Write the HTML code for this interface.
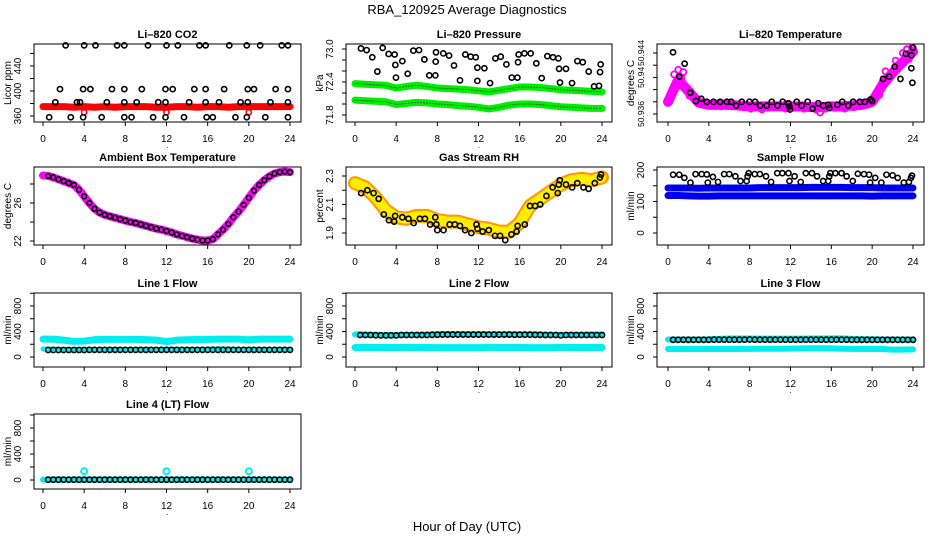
<!DOCTYPE html>
<html><head><meta charset="utf-8"><style>
html,body{margin:0;padding:0;background:#fff;}
svg{display:block;font-family:"Liberation Sans",sans-serif;}
</style></head><body>
<svg id="chart" width="936" height="540" viewBox="0 0 936 540" xmlns="http://www.w3.org/2000/svg">
<rect width="936" height="540" fill="#fff"/>
<text x="467" y="14" font-size="13" text-anchor="middle">RBA_120925  Average Diagnostics</text>
<text x="467" y="531" font-size="13" text-anchor="middle">Hour of Day (UTC)</text>
</svg>
<script>
// ---- shared
const xTicks=[0,4,8,12,16,20,24];
const bandHours=[0,1,2,3,4,5,6,7,8,9,10,11,12,13,14,15,16,17,18,19,20,21,22,23,24];
const halfHours=[0.5,1,1.5,2,2.5,3,3.5,4,4.5,5,5.5,6,6.5,7,7.5,8,8.5,9,9.5,10,10.5,11,11.5,12,12.5,13,13.5,14,14.5,15,15.5,16,16.5,17,17.5,18,18.5,19,19.5,20,20.5,21,21.5,22,22.5,23,23.5,24];
// ---- CO2
const co2Band=[375,375,375,374,375,374,375,374,375,375,375,374,374,375,375,374,375,375,374,375,375,375,375,375,375];
const co2RedH=[4,12,20];
const co2RedV=[366,366,366];
const co2H=[2.2,4.0,5.1,7.2,7.9,10.2,12.0,13.1,15.2,15.8,18.1,19.8,21.1,23.2,23.8,
 1.65,3.9,4.6,6.7,7.9,9.6,11.9,12.6,14.7,15.8,17.6,19.9,20.5,22.6,23.8,
 1.2,3.3,3.6,6.2,7.9,9.1,11.2,11.9,14.2,15.8,17.1,19.2,19.9,22.1,23.8,
 0.6,2.7,3.9,5.7,7.9,8.6,10.7,11.9,13.7,15.9,16.5,18.7,19.8,21.6,23.8];
const co2V=[473,473,473,473,473,473,473,473,473,473,473,473,473,473,473,
 403,403,403,403,403,403,403,403,403,403,403,403,403,403,403,
 382,382,382,382,382,382,382,382,382,382,382,382,382,382,382,
 358,358,358,358,358,358,358,358,358,358,358,358,358,358,358];
// ---- Pressure
const presUpper=[72.37,72.36,72.35,72.34,72.29,72.32,72.34,72.32,72.29,72.28,72.27,72.26,72.24,72.22,72.25,72.28,72.31,72.31,72.3,72.28,72.26,72.25,72.24,72.23,72.22];
const presLower=[72.07,72.06,72.05,72.04,71.99,72.01,72.03,72.02,72.0,71.99,71.97,71.96,71.94,71.91,71.94,71.98,72.0,72.0,71.99,71.97,71.95,71.94,71.93,71.92,71.92];
const presH=[0.58,1.13,1.68,2.17,2.69,3.27,3.85,3.92,3.98,4.6,5.12,5.67,6.22,6.74,7.22,7.81,7.87,7.84,8.58,9.14,9.62,10.2,10.72,11.24,11.73,11.89,11.89,12.57,13.12,13.64,14.16,14.71,15.23,15.78,15.84,15.9,16.46,17.07,17.62,18.14,18.69,19.24,19.76,19.83,19.92,20.5,21.09,21.61,22.13,22.71,23.23,23.71,23.81,23.87];
const presV=[73.01,72.98,72.85,72.59,73.02,72.91,72.9,72.71,72.48,72.78,72.55,72.97,72.98,72.81,72.52,72.52,72.94,72.77,72.92,72.88,72.7,72.43,72.9,72.86,72.85,72.66,72.42,72.65,72.38,72.83,72.86,72.72,72.48,72.48,72.76,72.9,72.92,72.92,72.74,72.47,72.87,72.85,72.83,72.64,72.39,72.64,72.38,72.78,72.76,72.59,72.32,72.33,72.58,72.72];
// ---- Li-820 temperature
const tempBand=[50.9376,50.9405,50.9390,50.9375,50.9372,50.9372,50.9372,50.9371,50.9370,50.9370,50.9370,50.9370,50.9370,50.9370,50.9369,50.9369,50.9370,50.9370,50.9371,50.9372,50.9376,50.9398,50.9414,50.9428,50.9442];
const tempMagH=[0.1,0.6,0.8,1.0,1.3,1.5,1.7,2.1,2.6,3.0,5.2,6.9,8.1,9.2,10.4,11.5,12.3,13.3,14.5,14.9,15.4,16.3,17.3,18.2,19.5,20.7,21.0,21.3,21.8,22.3,22.6,23.0,23.4,23.6,23.9];
const tempMagV=[50.9377,50.9412,50.9400,50.9418,50.9408,50.9415,50.9395,50.9384,50.9380,50.9378,50.9370,50.9370,50.9367,50.9366,50.9369,50.9367,50.9368,50.9367,50.9366,50.9362,50.9367,50.9368,50.9367,50.9369,50.9372,50.9385,50.9402,50.9416,50.9412,50.9430,50.9425,50.9440,50.9445,50.9432,50.9447];
const tempH=[0.49,1.11,1.63,2.18,2.73,3.26,3.81,4.46,5.11,5.77,6.19,6.68,7.23,7.98,8.53,9.02,9.67,10.16,10.72,11.24,11.79,11.89,11.95,12.61,13.09,13.68,14.17,14.72,15.21,15.7,15.8,16.58,17.07,17.65,18.14,18.79,19.28,19.84,20.0,21.07,21.66,22.21,22.77,23.29,23.84,23.84,24.0,23.94];
const tempV=[50.9441,50.9409,50.9426,50.9388,50.9377,50.9380,50.9376,50.9376,50.9376,50.9376,50.9376,50.9371,50.9376,50.9376,50.9376,50.9371,50.9371,50.9376,50.9371,50.9376,50.9374,50.9370,50.9366,50.9376,50.9371,50.9376,50.9367,50.9374,50.9371,50.9372,50.9368,50.9372,50.9376,50.9371,50.9376,50.9376,50.9376,50.9379,50.9377,50.9406,50.9409,50.9422,50.9406,50.9439,50.9420,50.9437,50.9447,50.9401];
// ---- Ambient box temperature (half-hourly, starting at 0)
const ambH=[0,0.5,1,1.5,2,2.5,3,3.5,4,4.5,5,5.5,6,6.5,7,7.5,8,8.5,9,9.5,10,10.5,11,11.5,12,12.5,13,13.5,14,14.5,15,15.5,16,16.5,17,17.5,18,18.5,19,19.5,20,20.5,21,21.5,22,22.5,23,23.5,24];
const ambV=[28.9,28.85,28.7,28.5,28.3,28.1,27.9,27.4,26.7,26.0,25.4,25.0,24.75,24.6,24.45,24.3,24.15,24.0,23.9,23.75,23.6,23.45,23.3,23.2,23.05,22.9,22.7,22.55,22.4,22.25,22.15,22.05,22.05,22.2,22.7,23.2,23.8,24.5,25.1,25.8,26.55,27.3,27.9,28.4,28.8,29.1,29.25,29.3,29.25];
// ---- RH
const rhBand=[2.25,2.22,2.15,2.06,2.01,2.0,2.02,2.02,1.99,1.98,1.98,1.96,1.94,1.93,1.91,1.91,1.97,2.09,2.14,2.19,2.24,2.27,2.28,2.27,2.29];
const rhH=[0.6,1.2,1.8,2.3,2.8,3.3,3.8,3.9,4.6,5.2,5.7,6.3,6.8,7.3,7.8,7.9,8.0,8.6,9.2,9.7,10.2,10.7,11.3,11.8,11.9,12.4,13.0,13.6,14.1,14.6,15.2,15.7,15.8,16.5,17.0,17.5,18.0,18.6,19.2,19.7,19.8,19.9,20.5,21.1,21.6,22.2,22.7,23.3,23.8,23.9];
const rhV=[2.18,2.2,2.18,2.14,2.03,1.99,1.98,2.02,2.01,2.0,1.97,2.0,2.0,1.96,2.01,1.96,1.92,1.92,1.96,1.96,1.95,1.92,1.9,1.96,1.93,1.91,1.92,1.88,1.88,1.85,1.89,1.91,1.95,1.96,2.09,2.09,2.1,2.16,2.22,2.18,2.24,2.27,2.24,2.22,2.25,2.22,2.21,2.25,2.29,2.31];
// ---- Sample flow
const sfUpper=[143,143,143,142,143,143,143,143,143,144,144,144,144,144,145,145,145,145,144,144,144,143,143,143,143];
const sfLower=[119,119,118,117,117,118,118,118,118,118,118,118,118,118,118,118,118,118,118,118,117,118,118,118,118];
const sfH=[0.5,1.1,1.6,2.2,2.7,3.3,3.8,3.9,4.4,4.9,5.5,6.0,6.6,7.1,7.7,7.8,7.9,8.5,9.0,9.6,10.1,10.7,11.2,11.8,11.9,12.4,13.0,13.5,14.1,14.6,15.2,15.7,15.8,15.9,16.4,17.0,17.5,18.1,18.6,19.2,19.7,19.8,20.3,20.9,21.4,22.0,22.5,23.1,23.6,23.8,23.9];
const sfV=[185,185,175,160,187,187,186,160,178,162,187,187,180,165,165,180,190,187,187,180,162,190,190,190,165,180,162,190,190,180,165,165,180,190,190,190,180,165,188,187,185,160,175,160,185,183,175,160,162,175,182];
// ---- Line flows
const l1Cyan=[280,280,265,245,250,272,276,276,276,276,272,265,242,265,270,275,276,280,280,280,270,280,280,280,280];
const l1CyanLow=[125,125,120,118,120,120,120,120,120,120,120,120,120,120,120,120,125,130,125,120,120,120,120,120,120];
const l1Black=[110,110,110,110,110,110,110,110,112,112,112,112,112,112,112,112,112,112,112,112,112,112,112,112,112,112,112,112,112,112,112,112,112,112,112,112,112,112,112,112,112,112,112,112,112,112,112,112];
const l2Cyan=[355,352,345,340,340,348,350,352,358,358,358,356,356,355,355,355,356,356,352,350,348,350,350,352,352];
const l2CyanLow=[150,150,150,150,150,150,150,150,148,148,148,148,148,150,150,150,150,148,148,148,150,150,150,150,150];
const l2Black=[345,345,345,342,340,340,340,340,345,345,345,345,345,345,348,350,352,352,352,352,352,352,352,352,352,352,352,352,352,352,350,350,350,350,348,348,345,345,345,340,345,345,345,345,345,345,345,345];
const l3Cyan=[275,275,275,275,278,285,290,290,290,288,288,288,288,288,290,290,292,292,285,280,278,275,275,275,275];
const l3CyanLow=[125,125,125,125,125,125,125,125,128,130,130,130,132,135,138,138,135,130,128,125,125,125,115,115,120];
const l3Black=[270,270,270,270,270,270,270,270,272,272,272,272,272,272,272,275,272,272,272,272,272,272,272,272,272,272,272,272,272,272,272,272,272,272,272,270,270,270,270,270,270,270,270,270,270,270,270,270];
const l4Cyan=[5,5,5,5,5,5,5,5,5,5,5,5,5,5,5,5,5,5,5,5,5,5,5,5,5];
const l4Spike=[4,12,20];
const l4SpikeV=[135,135,135];
const l4Black=[5,5,5,5,5,5,5,5,5,5,5,5,5,5,5,5,5,5,5,5,5,5,5,5,5,5,5,5,5,5,5,5,5,5,5,5,5,5,5,5,5,5,5,5,5,5,5,5];

const NS='http://www.w3.org/2000/svg';
const svg=document.getElementById('chart');
function mk(tag,attrs,parent){const e=document.createElementNS(NS,tag);for(const k in attrs)e.setAttribute(k,attrs[k]);(parent||svg).appendChild(e);return e;}

function panel(o){
  const g=mk('g',{});
  
  
  const sx=h=>o.x0+h*(o.x24-o.x0)/24;
  const sy=v=>o.p0+(v-o.v0)*(o.p1-o.p0)/(o.v1-o.v0);
  const box=mk('rect',{x:o.l,y:o.t,width:o.r-o.l,height:o.b-o.t,fill:'none',stroke:'#000','stroke-width':1},g);
  
  
  const t=mk('text',{x:(o.l+o.r)/2,y:o.t-6,'font-size':11,'font-weight':'bold','text-anchor':'middle'},g);
  t.textContent=o.title;
  
  
  const yl=mk('text',{transform:`translate(${o.l-23},${(o.t+o.b)/2}) rotate(-90)`,'font-size':10,'text-anchor':'middle'},g);
  yl.textContent=o.ylab;
  
  
  xTicks.forEach(h=>{
    const x=sx(h);
    mk('line',{x1:x,x2:x,y1:o.b,y2:o.b+4,stroke:'#000'},g);
    const tx=mk('text',{x:x,y:o.b+20,'font-size':10,'text-anchor':'middle'},g);
    tx.textContent=String(h);
    
    
  });
  const d=mk('text',{x:(o.l+o.r)/2,y:o.b+26,'font-size':8,'text-anchor':'middle'},g);
  d.textContent='.';
  const fs=o.tickFont||10;
  o.yticks.forEach((v,i)=>{
    const y=sy(v);
    mk('line',{x1:o.l-4,x2:o.l,y1:y,y2:y,stroke:'#000'},g);
    if(o.ylabels[i]){
      const ty=mk('text',{transform:`translate(${o.l-13},${y}) rotate(-90)`,'font-size':fs,'text-anchor':'middle'},g);
      ty.textContent=o.ylabels[i];
      
      
    }
  });
  return {g,sx,sy};
}
function band(p,hs,vs,color,w,name){
  const pl=mk('polyline',{points:hs.map((h,i)=>p.sx(h)+','+p.sy(vs[i])).join(' '),fill:'none',stroke:color,'stroke-width':w,'stroke-linejoin':'round','stroke-linecap':'round'},p.g);
  
  
  return pl;
}
function pts(p,hs,vs,color,name,r,sw){
  hs.forEach((h,i)=>{
    const c=mk('circle',{cx:p.sx(h),cy:p.sy(vs[i]),r:r||2.6,fill:'none',stroke:color,'stroke-width':sw||1.6},p.g);
    
    
  });
}
const C1={l:34,r:301,x0:43,x24:290}, C2={l:346,r:612,x0:355,x24:602}, C3={l:657,r:924,x0:668,x24:913};
const flowTicks=[0,200,400,600,800,1000], flowLabels=['0','','400','','800',''];

// CO2
let p=panel(Object.assign({},C1,{t:44,b:122,v0:360,p0:116,v1:440,p1:66,yticks:[360,380,400,420,440,460],ylabels:['360','','400','','440',''],title:'Li\u2013820 CO2',ylab:'Licor ppm',name:'panel-li820-co2'}));
band(p,bandHours,co2Band,'#ff0000',7,'co2-band');
pts(p,co2RedH,co2RedV,'#ff0000','co2-red-point');
pts(p,co2H,co2V,'#000','co2-point');
// Pressure
p=panel(Object.assign({},C2,{t:44,b:122,v0:71.8,p0:115,v1:72.4,p1:82,yticks:[71.8,72.0,72.2,72.4,72.6,72.8,73.0],ylabels:['71.8','','','72.4','','','73.0'],title:'Li\u2013820 Pressure',ylab:'kPa',name:'panel-li820-pressure'}));
band(p,bandHours,presUpper,'#00ee00',7,'pressure-band-upper');
band(p,bandHours,presLower,'#00ee00',7,'pressure-band-lower');
band(p,bandHours,presUpper,'#006600',1,'pressure-band-upper-core').setAttribute('stroke-dasharray','1 2');
band(p,bandHours,presLower,'#006600',1,'pressure-band-lower-core').setAttribute('stroke-dasharray','1 2');
pts(p,presH,presV,'#000','pressure-point');
// Temperature
p=panel(Object.assign({},C3,{t:44,b:122,v0:50.936,p0:114,v1:50.944,p1:53,tickFont:8.5,yticks:[50.936,50.9376,50.9392,50.9408,50.9424,50.944],ylabels:['50.936','','','50.94','','50.944'],title:'Li\u2013820 Temperature',ylab:'degrees C',name:'panel-li820-temperature'}));
band(p,bandHours,tempBand,'#ff00ff',10,'temperature-band');
pts(p,tempMagH,tempMagV,'#ff00ff','temperature-magenta-point',3,1.8);
pts(p,tempH,tempV,'#000','temperature-point');
// Ambient
p=panel(Object.assign({},C1,{t:167,b:245,v0:22,p0:241,v1:26,p1:203,yticks:[22,24,26,28],ylabels:['22','','26',''],title:'Ambient Box Temperature',ylab:'degrees C',name:'panel-ambient-temperature'}));
band(p,ambH,ambV,'#ff00ff',8,'ambient-band');
pts(p,ambH.slice(1),ambV.slice(1),'#000','ambient-point',2.4,1.6);
// RH
p=panel(Object.assign({},C2,{t:167,b:245,v0:1.9,p0:233,v1:2.3,p1:176,yticks:[1.9,2.0,2.1,2.2,2.3],ylabels:['1.9','','2.1','','2.3'],title:'Gas Stream RH',ylab:'percent',name:'panel-gas-stream-rh'}));
band(p,bandHours,rhBand,'#ff9900',14,'rh-band');
band(p,bandHours,rhBand,'#ffee00',10,'rh-band-dots').setAttribute('stroke-dasharray','1 2');
pts(p,rhH,rhV,'#000','rh-point');
// Sample flow
p=panel(Object.assign({},C3,{t:167,b:245,v0:0,p0:233,v1:200,p1:170,yticks:[0,50,100,150,200],ylabels:['0','','100','','200'],title:'Sample Flow',ylab:'ml/min',name:'panel-sample-flow'}));
band(p,bandHours,sfUpper,'#0000ee',7,'sample-flow-band-upper');
band(p,bandHours,sfLower,'#0000ee',7,'sample-flow-band-lower');
pts(p,sfH,sfV,'#000','sample-flow-point');
// Line 1
p=panel(Object.assign({},C1,{t:293,b:367,v0:0,p0:357,v1:800,p1:306,yticks:flowTicks,ylabels:flowLabels,title:'Line 1 Flow',ylab:'ml/min',name:'panel-line1-flow'}));
band(p,bandHours,l1Cyan,'#00eeee',7,'line1-cyan-band');
band(p,bandHours,l1CyanLow,'#00eeee',5,'line1-cyan-low-band');
pts(p,halfHours,l1Black,'#000','line1-point');
// Line 2
p=panel(Object.assign({},C2,{t:293,b:367,v0:0,p0:357,v1:800,p1:306,yticks:flowTicks,ylabels:flowLabels,title:'Line 2 Flow',ylab:'ml/min',name:'panel-line2-flow'}));
band(p,bandHours,l2Cyan,'#00eeee',6,'line2-cyan-band');
band(p,bandHours,l2CyanLow,'#00eeee',7,'line2-cyan-low-band');
pts(p,halfHours,l2Black,'#000','line2-point');
// Line 3
p=panel(Object.assign({},C3,{t:293,b:367,v0:0,p0:357,v1:800,p1:306,yticks:flowTicks,ylabels:flowLabels,title:'Line 3 Flow',ylab:'ml/min',name:'panel-line3-flow'}));
band(p,bandHours,l3Cyan,'#00eeee',6,'line3-cyan-band');
band(p,bandHours,l3CyanLow,'#00eeee',6,'line3-cyan-low-band');
pts(p,halfHours,l3Black,'#000','line3-point');
// Line 4
p=panel(Object.assign({},C1,{t:414,b:489,v0:0,p0:480,v1:800,p1:428,yticks:flowTicks,ylabels:flowLabels,title:'Line 4 (LT) Flow',ylab:'ml/min',name:'panel-line4-flow'}));
band(p,bandHours,l4Cyan,'#00eeee',6,'line4-cyan-band');
pts(p,l4Spike,l4SpikeV,'#00eeee','line4-cyan-spike',3,2);
pts(p,halfHours,l4Black,'#000','line4-point');
</script>
</body></html>
